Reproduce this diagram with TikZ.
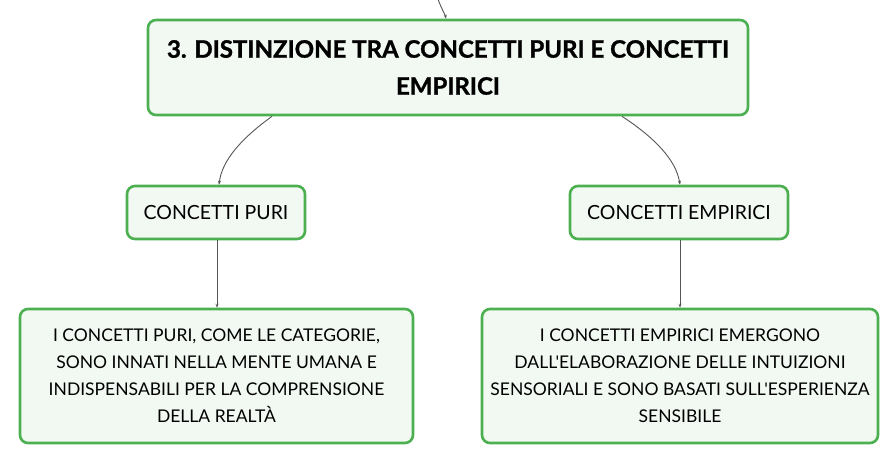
\documentclass[tikz,border=0pt]{standalone}
\usepackage{fontspec}
\setmainfont{Lato}[Ligatures=TeXOff, BoldFeatures={FakeBold=1.2}]
\usetikzlibrary{arrows.meta}
\definecolor{boxgreen}{HTML}{4CAF50}
\definecolor{boxfill}{HTML}{F1F9F2}
\definecolor{linkgray}{HTML}{555555}
\tikzset{
  mapbox/.style={draw=boxgreen, fill=boxfill, line width=2.6pt, rounded corners=8pt,
    align=center, inner sep=0pt, text=black},
  link/.style={draw=linkgray, line width=0.9pt, -{Stealth[length=4pt,width=3pt]}},
  bodytext/.style={font=\fontsize{17.5}{27}\selectfont},
  subtext/.style={font=\fontsize{19.5}{27}\selectfont},
  titletext/.style={font=\fontsize{24}{37}\selectfont\bfseries}
}
\begin{document}
\begin{tikzpicture}[x=1pt,y=-1pt]
\useasboundingbox (0,0) rectangle (896,464);
\node[mapbox, titletext, minimum width=600pt, minimum height=95pt] (top) at (448,67.5)
  {3. DISTINZIONE TRA CONCETTI PURI E CONCETTI\\EMPIRICI};
\node[mapbox, subtext, minimum width=178pt, minimum height=53pt] (puri) at (216,212.5)
  {CONCETTI PURI};
\node[mapbox, subtext, minimum width=218pt, minimum height=53pt] (emp) at (679,212.5)
  {CONCETTI EMPIRICI};
\node[mapbox, bodytext, minimum width=393pt, minimum height=134pt] (puridesc) at (216.5,376)
  {I CONCETTI PURI, COME LE CATEGORIE,\\SONO INNATI NELLA MENTE UMANA E\\INDISPENSABILI PER LA COMPRENSIONE\\DELLA REALTÀ};
\node[mapbox, bodytext, minimum width=396pt, minimum height=134pt] (empdesc) at (680,376)
  {I CONCETTI EMPIRICI EMERGONO\\DALL'ELABORAZIONE DELLE INTUIZIONI\\SENSORIALI E SONO BASATI SULL'ESPERIENZA\\SENSIBILE};
\coordinate (in) at (438,-1);
\draw[link] (in) .. controls (441,8) and (445,14) .. (top.north -| 446,0);
\draw[link] (top.south -| 272,0) .. controls (242,138) and (222,160) .. (puri.north -| 219,0);
\draw[link] (top.south -| 622,0) .. controls (655,138) and (676,160) .. (emp.north -| 680,0);
\draw[link] (puri.south -| 217,0) -- (puridesc.north -| 217,0);
\draw[link] (emp.south -| 680,0) -- (empdesc.north -| 680,0);
\end{tikzpicture}
\end{document}
